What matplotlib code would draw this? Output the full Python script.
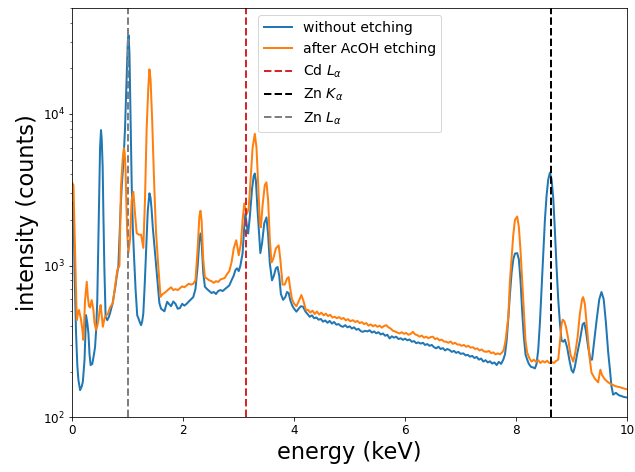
import matplotlib
matplotlib.use("Agg")
import matplotlib.pyplot as plt
import numpy as np

# energy (keV) / counts
e_blue = [0.00, 0.02, 0.04, 0.067, 0.09, 0.11, 0.14, 0.17, 0.19, 0.22, 0.247, 0.27, 0.29, 0.31, 0.33, 0.36, 0.39, 0.41,
          0.43, 0.45, 0.47, 0.487, 0.50, 0.517, 0.53, 0.547, 0.56, 0.577, 0.60, 0.63, 0.66, 0.68, 0.70, 0.727, 0.75,
          0.775, 0.80, 0.83, 0.85, 0.87, 0.89, 0.92, 0.95, 0.98, 1.00, 1.015, 1.03, 1.05, 1.07, 1.09, 1.11, 1.14, 1.17,
          1.19, 1.22, 1.24, 1.26, 1.28, 1.305, 1.33, 1.36, 1.39, 1.41, 1.43, 1.45, 1.47, 1.50, 1.52, 1.545, 1.57, 1.60,
          1.63, 1.66, 1.71, 1.74, 1.78, 1.82, 1.86, 1.90, 1.94, 1.98, 2.02, 2.06, 2.10, 2.14, 2.18, 2.22, 2.26, 2.29,
          2.31, 2.33, 2.36, 2.39, 2.43, 2.47, 2.51, 2.55, 2.59, 2.63, 2.67, 2.71, 2.75, 2.79, 2.83, 2.87, 2.91, 2.94,
          2.97, 3.00, 3.03, 3.07, 3.10, 3.12, 3.15, 3.17, 3.20, 3.24, 3.27, 3.29, 3.31, 3.34, 3.37, 3.39, 3.42, 3.46,
          3.50, 3.53, 3.56, 3.60, 3.63, 3.67, 3.70, 3.73, 3.76, 3.80, 3.84, 3.87, 3.90, 3.93, 3.97, 4.00, 4.04, 4.08,
          4.12, 4.16, 4.20, 4.24, 4.28, 4.32, 4.36, 4.40, 4.44, 4.48, 4.52, 4.56, 4.60, 4.64, 4.68, 4.72, 4.76, 4.80,
          4.84, 4.88, 4.92, 4.96, 5.00, 5.04, 5.08, 5.12, 5.16, 5.20, 5.24, 5.28, 5.32, 5.36, 5.40, 5.44, 5.48, 5.52,
          5.56, 5.60, 5.64, 5.68, 5.72, 5.76, 5.80, 5.84, 5.88, 5.92, 5.96, 6.00, 6.04, 6.08, 6.12, 6.16, 6.20, 6.24,
          6.28, 6.32, 6.36, 6.40, 6.44, 6.48, 6.52, 6.56, 6.60, 6.64, 6.68, 6.72, 6.76, 6.80, 6.84, 6.88, 6.92, 6.96,
          7.00, 7.05, 7.09, 7.13, 7.17, 7.21, 7.25, 7.29, 7.33, 7.37, 7.41, 7.45, 7.49, 7.53, 7.57, 7.61, 7.65, 7.69,
          7.73, 7.77, 7.80, 7.83, 7.86, 7.89, 7.92, 7.95, 7.98, 8.02, 8.05, 8.08, 8.11, 8.14, 8.17, 8.20, 8.23, 8.27,
          8.31, 8.34, 8.37, 8.40, 8.43, 8.46, 8.49, 8.52, 8.55, 8.58, 8.61, 8.64, 8.67, 8.70, 8.73, 8.76, 8.79, 8.82,
          8.85, 8.88, 8.92, 8.96, 9.00, 9.03, 9.06, 9.10, 9.15, 9.20, 9.23, 9.26, 9.30, 9.34, 9.37, 9.40, 9.45, 9.50,
          9.54, 9.58, 9.62, 9.66, 9.69, 9.72, 9.75, 9.80, 9.85, 9.90, 9.95, 10.00]
c_blue = [2600, 2500, 900, 360, 220, 176, 151, 160, 172, 239, 472, 420, 359, 260, 221, 225, 260, 291,
          380, 593, 1500, 3500, 6000, 7830, 6800, 4470, 2200, 985, 460, 437, 460, 485, 520, 565, 640,
          723, 850, 985, 1500, 2330, 3300, 4740, 8000, 18000, 30000, 33000, 25000, 9000, 3500, 1800, 1200, 700, 470,
          451, 420, 405, 430, 485, 750, 1260, 2300, 3000, 2800, 2330, 1800, 1480, 1100, 890, 700, 565, 520,
          510, 500, 578, 560, 540, 580, 560, 520, 525, 560, 545, 560, 580, 600, 620, 700, 1000, 1450,
          1630, 1450, 900, 725, 700, 680, 660, 670, 650, 680, 690, 680, 700, 720, 740, 800, 860, 935,
          960, 920, 1000, 1210, 1800, 2200, 1790, 1630, 2100, 3200, 3900, 4050, 3600, 2300, 1540, 1210, 1400, 1900,
          2080, 1600, 1040, 800, 850, 960, 980, 860, 650, 595, 620, 670, 660, 590, 540, 520, 497, 520,
          540, 536, 500, 480, 460, 470, 450, 455, 440, 445, 427, 435, 420, 432, 415, 425, 408, 412,
          400, 395, 405, 392, 398, 385, 392, 378, 383, 370, 366, 372, 368, 375, 362, 368, 358, 364,
          352, 357, 345, 350, 331, 342, 335, 340, 328, 332, 324, 330, 322, 326, 315, 318, 308, 312,
          306, 310, 300, 304, 296, 300, 290, 285, 292, 282, 286, 276, 282, 278, 270, 274, 266, 270,
          262, 264, 256, 258, 251, 254, 246, 250, 240, 244, 233, 238, 230, 234, 226, 230, 221, 232,
          225, 240, 260, 320, 450, 650, 900, 1100, 1200, 1210, 1100, 800, 500, 340, 260, 240, 225, 215,
          213, 210, 225, 280, 420, 700, 1200, 2000, 2900, 3700, 4100, 3700, 2800, 1700, 980, 600, 420, 320,
          315, 325, 290, 240, 205, 197, 215, 260, 320, 410, 420, 370, 290, 240, 240, 300, 430, 600,
          670, 600, 420, 270, 210, 160, 141, 145, 140, 138, 136, 135]

e_orange = [0.00, 0.02, 0.05, 0.08, 0.10, 0.12, 0.157, 0.18, 0.20, 0.23, 0.26, 0.28, 0.30, 0.32, 0.35, 0.38, 0.40,
            0.427, 0.45, 0.47, 0.49, 0.51, 0.53, 0.55, 0.57, 0.59, 0.64, 0.68, 0.73, 0.77, 0.81, 0.85, 0.865, 0.877,
            0.907, 0.93, 0.945, 0.96, 0.975, 0.99, 1.01, 1.04, 1.07, 1.10, 1.13, 1.16, 1.20, 1.24, 1.28, 1.31, 1.34,
            1.37, 1.39, 1.41, 1.44, 1.47, 1.49, 1.51, 1.55, 1.59, 1.63, 1.66, 1.70, 1.74, 1.78, 1.82, 1.86, 1.90,
            1.94, 1.98, 2.02, 2.06, 2.10, 2.14, 2.18, 2.22, 2.26, 2.29, 2.31, 2.33, 2.36, 2.39, 2.43, 2.47, 2.51,
            2.55, 2.59, 2.63, 2.67, 2.71, 2.75, 2.79, 2.83, 2.87, 2.91, 2.955, 2.98, 3.00, 3.04, 3.07, 3.10, 3.13,
            3.15, 3.18, 3.21, 3.25, 3.29, 3.32, 3.35, 3.38, 3.40, 3.43, 3.47, 3.50, 3.53, 3.56, 3.59, 3.62, 3.67,
            3.72, 3.75, 3.79, 3.83, 3.87, 3.90, 3.93, 3.96, 4.00, 4.04, 4.08, 4.13, 4.17, 4.21, 4.25, 4.29, 4.33,
            4.37, 4.41, 4.45, 4.49, 4.53, 4.57, 4.61, 4.65, 4.69, 4.73, 4.77, 4.81, 4.85, 4.89, 4.93, 4.97, 5.01,
            5.06, 5.10, 5.14, 5.18, 5.22, 5.26, 5.30, 5.34, 5.38, 5.42, 5.46, 5.50, 5.54, 5.58, 5.62, 5.66, 5.70,
            5.74, 5.78, 5.82, 5.86, 5.90, 5.94, 5.98, 6.02, 6.06, 6.10, 6.14, 6.18, 6.22, 6.26, 6.30, 6.34, 6.38,
            6.42, 6.46, 6.50, 6.54, 6.58, 6.62, 6.66, 6.70, 6.74, 6.78, 6.82, 6.86, 6.90, 6.94, 6.98, 7.02, 7.06,
            7.10, 7.14, 7.18, 7.22, 7.26, 7.30, 7.34, 7.38, 7.42, 7.47, 7.51, 7.55, 7.59, 7.63, 7.67, 7.71, 7.75,
            7.78, 7.81, 7.84, 7.86, 7.89, 7.92, 7.95, 7.98, 8.02, 8.05, 8.08, 8.11, 8.14, 8.17, 8.20, 8.24, 8.28,
            8.32, 8.36, 8.40, 8.44, 8.48, 8.52, 8.56, 8.60, 8.64, 8.68, 8.72, 8.76, 8.79, 8.82, 8.84, 8.87, 8.90,
            8.94, 8.98, 9.03, 9.07, 9.11, 9.15, 9.19, 9.21, 9.24, 9.27, 9.30, 9.33, 9.36, 9.42, 9.48, 9.52, 9.55,
            9.60, 9.66, 9.72, 9.80, 9.87, 9.94, 10.00]
c_orange = [3500, 3400, 1260, 437, 480, 510, 440, 380, 324, 593, 783, 620, 540, 530, 593, 510, 420,
            377, 400, 437, 500, 550, 470, 395, 430, 460, 480, 530, 565, 723, 935, 1000, 2000, 3310,
            4970, 5960, 5500, 4270, 2500, 1640, 1210, 1480, 2710, 3070, 2210, 1640, 1600, 1600, 1310, 2710, 8000,
            15000, 19700, 17000, 9000, 4000, 2500, 1640, 985, 623, 650, 660, 680, 700, 720, 690, 700, 690,
            710, 730, 720, 740, 760, 750, 760, 800, 1300, 2100, 2300, 2000, 1100, 840, 820, 800, 790,
            770, 790, 780, 810, 820, 830, 880, 920, 1050, 1300, 1470, 1300, 1170, 1400, 2000, 2570, 2300,
            2200, 2400, 3500, 6000, 7400, 6000, 3500, 1900, 1790, 2500, 3400, 3540, 2700, 1500, 1050, 1100, 1300,
            1360, 1100, 750, 750, 820, 840, 700, 600, 560, 540, 580, 640, 580, 510, 510, 490, 505,
            480, 498, 476, 490, 470, 482, 465, 474, 455, 460, 450, 458, 445, 452, 436, 444, 430,
            437, 425, 432, 418, 424, 412, 418, 402, 410, 398, 406, 395, 402, 390, 400, 405, 392,
            384, 372, 368, 362, 357, 364, 355, 360, 350, 355, 366, 352, 348, 340, 346, 335, 340,
            332, 338, 340, 328, 332, 322, 325, 316, 315, 310, 316, 305, 310, 302, 302, 296, 300,
            292, 296, 288, 290, 282, 285, 276, 280, 272, 270, 274, 265, 268, 260, 264, 260, 268,
            280, 320, 400, 458, 800, 1140, 1600, 2000, 2110, 1800, 1260, 800, 500, 320, 267, 245, 233,
            240, 232, 238, 228, 235, 230, 236, 228, 232, 228, 235, 240, 310, 410, 440, 430, 395,
            330, 260, 233, 270, 340, 480, 600, 620, 560, 420, 310, 240, 197, 180, 170, 206, 190,
            178, 170, 165, 160, 158, 155, 153]

# reference line energies (keV)
cd_la = 3.13
zn_ka = 8.63
zn_la = 1.01

fig = plt.figure(figsize=(635 / 72, 472 / 72), dpi=72)
ax = fig.add_axes([0.1139, 0.1159, 0.8735, 0.8672])

ax.plot(e_blue, c_blue, color="tab:blue", lw=2, label="without etching")
ax.plot(e_orange, c_orange, color="tab:orange", lw=2, label="after AcOH etching")
ax.axvline(cd_la, color="tab:red", ls="--", lw=2, label=r"Cd $L_\alpha$")
ax.axvline(zn_ka, color="k", ls="--", lw=2, label=r"Zn $K_\alpha$")
ax.axvline(zn_la, color="tab:gray", ls="--", lw=2, label=r"Zn $L_\alpha$")

ax.set_yscale("log")
ax.set_xlim(0, 10)
ax.set_ylim(100, 5e4)
ax.set_xlabel("energy (keV)", fontsize=22.5)
ax.set_ylabel("intensity (counts)", fontsize=22.5)
ax.tick_params(labelsize=12)
ax.legend(loc="upper center", fontsize=14)

fig.savefig("out.png", dpi=72)
